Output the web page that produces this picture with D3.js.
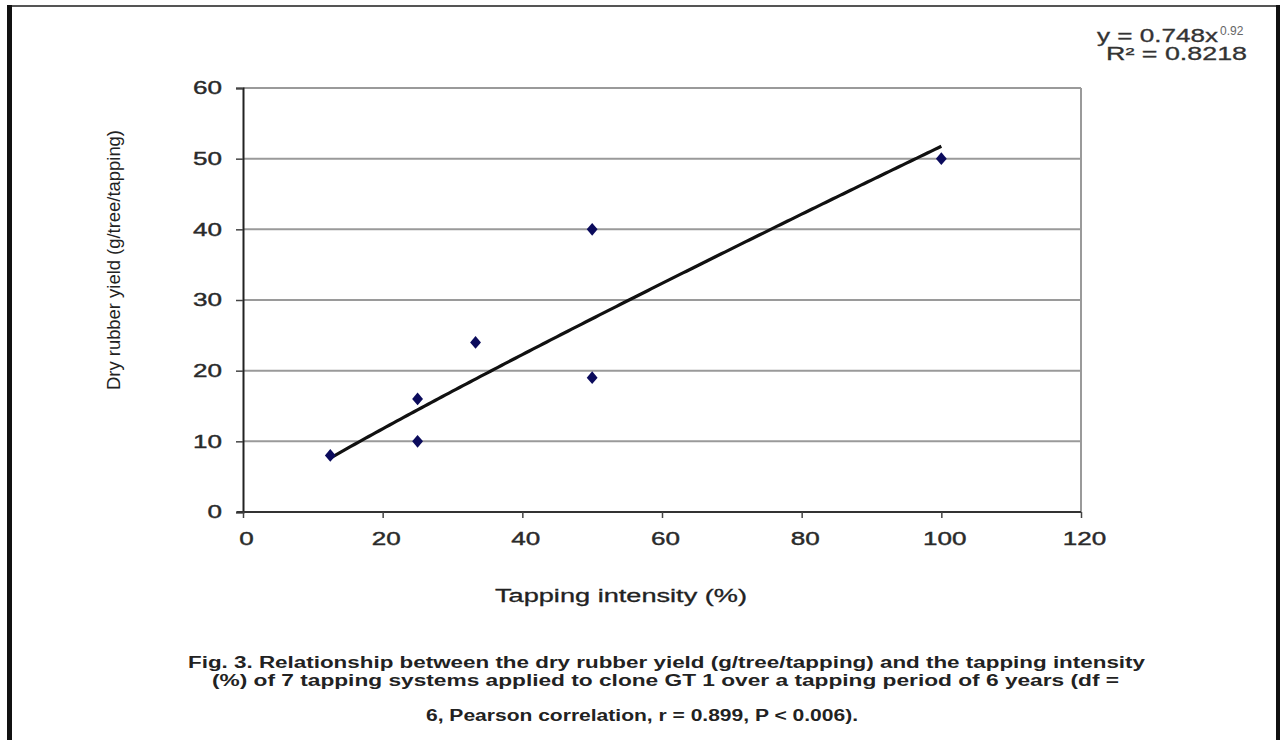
<!DOCTYPE html>
<html>
<head>
<meta charset="utf-8">
<script src="https://cdn.jsdelivr.net/npm/d3@7"></script>
<style>
  html, body { margin: 0; padding: 0; background: #fff; }
  svg { display: block; }
  text { font-family: "Liberation Sans", Arial, sans-serif; }
</style>
</head>
<body>
<svg id="chart" width="1284" height="740"></svg>
<script>
// ---- data ----
const tappingIntensity = [12.5, 25, 25, 33.3, 50, 50, 100];
const dryRubberYield   = [8, 16, 10, 24, 40, 19, 50];
const xTicks = [0, 20, 40, 60, 80, 100, 120];
const yTicks = [0, 10, 20, 30, 40, 50, 60];
const trendA = 0.748;   // from the chart's equation y = 0.748x^0.92
const trendB = 0.92;
const trendRange = [12.5, 100];
const equationMain = "y = 0.748x";
const equationExp = "0.92";
const rSquared = "R² = 0.8218";
const xTitle = "Tapping intensity (%)";
const yTitle = "Dry rubber yield (g/tree/tapping)";
const captionLines = [
  "Fig. 3. Relationship between the dry rubber yield (g/tree/tapping) and the tapping intensity",
  "(%) of 7 tapping systems applied to clone GT 1 over a tapping period of 6 years (df  =",
  "6, Pearson correlation, r = 0.899, P < 0.006)."
];

// ---- layout ----
const svg = d3.select("#chart");
const x = d3.scaleLinear().domain([0, 120]).range([243, 1081]);
const y = d3.scaleLinear().domain([0, 60]).range([512, 88]);

// outer frame
svg.append("line").attr("x1", 7).attr("x2", 1280).attr("y1", 6).attr("y2", 6)
  .attr("stroke", "#555").attr("stroke-width", 2);
svg.append("line").attr("x1", 9.5).attr("x2", 9.5).attr("y1", 5).attr("y2", 740)
  .attr("stroke", "#111").attr("stroke-width", 5);
svg.append("line").attr("x1", 1278).attr("x2", 1278).attr("y1", 5).attr("y2", 740)
  .attr("stroke", "#111").attr("stroke-width", 4);

// gridlines
svg.append("g").selectAll("line").data(yTicks.filter(d => d > 0)).join("line")
  .attr("x1", x(0)).attr("x2", x(120))
  .attr("y1", d => y(d)).attr("y2", d => y(d))
  .attr("stroke", "#9a9a9a").attr("stroke-width", 2);
// right border of plot
svg.append("line").attr("x1", x(120)).attr("x2", x(120)).attr("y1", y(60)).attr("y2", y(0))
  .attr("stroke", "#9a9a9a").attr("stroke-width", 2);

// y axis
const yAxis = d3.axisLeft(y).tickValues(yTicks).tickSize(7).tickPadding(14);
const gy = svg.append("g").attr("transform", `translate(${x(0)},0)`).call(yAxis);
gy.select(".domain").attr("stroke", "#222").attr("stroke-width", 2);
gy.selectAll(".tick line").attr("stroke", "#444").attr("stroke-width", 1.5);
gy.selectAll(".tick text")
  .attr("font-family", "Liberation Sans, Arial, sans-serif")
  .attr("font-size", 18).attr("fill", "#2a2a2a")
  .attr("stroke", "#2a2a2a").attr("stroke-width", 0.4)
  .attr("textLength", d => String(d).length * 14.5)
  .attr("lengthAdjust", "spacingAndGlyphs");

// x axis
const xAxis = d3.axisBottom(x).tickValues(xTicks).tickSize(6).tickPadding(14);
const gx = svg.append("g").attr("transform", `translate(0,${y(0)})`).call(xAxis);
gx.select(".domain").attr("stroke", "#333").attr("stroke-width", 2)
  .attr("d", `M${x(0) - 6},0H${x(120)}`);
gx.selectAll(".tick line").attr("stroke", "#444").attr("stroke-width", 1.5);
gx.selectAll(".tick text")
  .attr("font-family", "Liberation Sans, Arial, sans-serif")
  .attr("font-size", 18).attr("fill", "#2a2a2a")
  .attr("stroke", "#2a2a2a").attr("stroke-width", 0.4)
  .attr("dx", 3)
  .attr("textLength", d => String(d).length * 14.5)
  .attr("lengthAdjust", "spacingAndGlyphs");

// trend line (power fit shown on the chart)
const trendXs = d3.range(trendRange[0], trendRange[1] + 0.01, 0.5);
const line = d3.line().x(d => x(d)).y(d => y(trendA * Math.pow(d, trendB)));
svg.append("path").datum(trendXs).attr("d", line)
  .attr("fill", "none").attr("stroke", "#111").attr("stroke-width", 3.2);

// points
const pts = tappingIntensity.map((v, i) => [v, dryRubberYield[i]]);
svg.append("g").selectAll("path").data(pts).join("path")
  .attr("transform", d => `translate(${x(d[0])},${y(d[1])}) scale(1.4,0.95)`)
  .attr("d", d3.symbol().type(d3.symbolDiamond).size(52))
  .attr("fill", "#0b0b5c");

// axis titles
svg.append("text").attr("x", 621).attr("y", 602).attr("text-anchor", "middle")
  .attr("font-size", 18).attr("fill", "#222")
  .attr("stroke", "#222").attr("stroke-width", 0.3)
  .attr("textLength", 252).attr("lengthAdjust", "spacingAndGlyphs")
  .text(xTitle);
svg.append("text").attr("transform", "translate(120,260) rotate(-90)")
  .attr("text-anchor", "middle").attr("font-size", 18).attr("fill", "#222")
  .attr("textLength", 260).attr("lengthAdjust", "spacingAndGlyphs")
  .text(yTitle);

// equation
const eq = svg.append("text").attr("x", 1097).attr("y", 42).attr("font-size", 18).attr("fill", "#333")
  .attr("stroke", "#333").attr("stroke-width", 0.3);
eq.append("tspan").text(equationMain).attr("textLength", 121).attr("lengthAdjust", "spacingAndGlyphs");
eq.append("tspan").attr("dy", -7).attr("font-size", 12).attr("dx", 2).attr("fill", "#666").attr("stroke", "none").text(equationExp);
svg.append("text").attr("x", 1106).attr("y", 60).attr("font-size", 18).attr("fill", "#333")
  .attr("stroke", "#333").attr("stroke-width", 0.3)
  .attr("textLength", 141).attr("lengthAdjust", "spacingAndGlyphs")
  .text(rSquared);

// caption
const capSpec = [
  { x: 188, y: 668, w: 957 },
  { x: 212, y: 686, w: 907 },
  { x: 426, y: 721, w: 432 }
];
svg.append("g").selectAll("text").data(captionLines).join("text")
  .attr("x", (d, i) => capSpec[i].x).attr("y", (d, i) => capSpec[i].y)
  .attr("font-size", 16).attr("font-weight", "bold").attr("fill", "#222")
  .attr("textLength", (d, i) => capSpec[i].w).attr("lengthAdjust", "spacingAndGlyphs")
  .text(d => d);
</script>
</body>
</html>
